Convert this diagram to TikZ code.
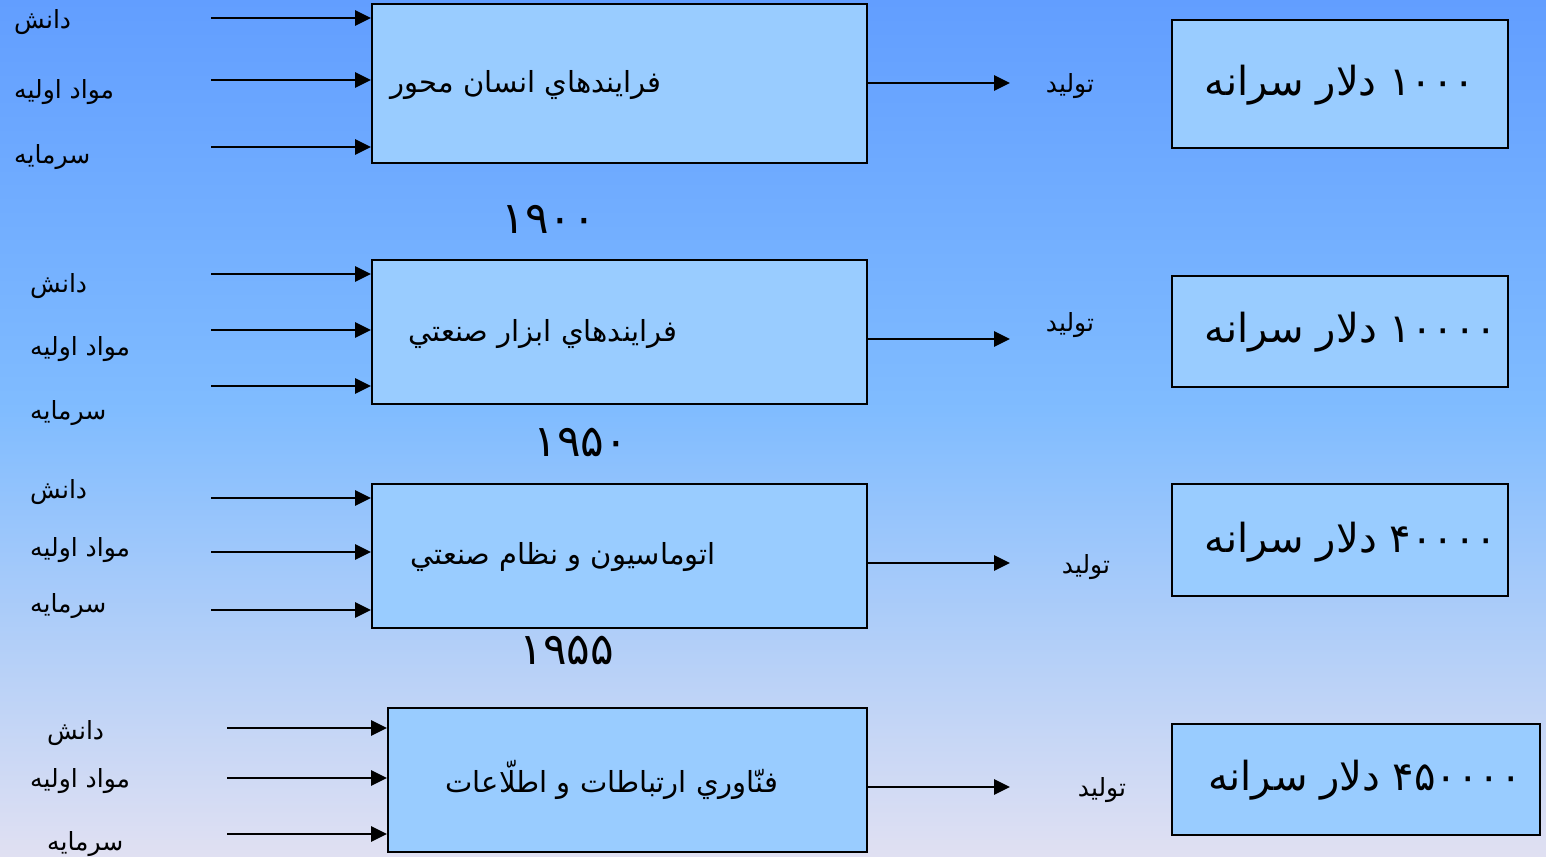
\documentclass[tikz,border=0pt]{standalone}
\usepackage{fontspec}
\usetikzlibrary{arrows.meta}
\TeXXeTstate=1
\newfontfamily\ar[Script=Arabic]{DejaVu Sans}
\definecolor{bgtop}{RGB}{98,158,255}
\definecolor{bgmid}{RGB}{128,188,255}
\definecolor{bgbot}{RGB}{224,224,242}
\definecolor{boxfill}{RGB}{153,204,255}
\tikzset{
  mainbox/.style={draw=black, line width=2.2pt, fill=boxfill, anchor=north west, inner sep=0pt},
  arr/.style={line width=2.8pt, -{Triangle[length=16pt,width=15pt]}},
  lbl/.style={anchor=west, inner sep=0pt, font=\ar\fontsize{25}{28}\selectfont},
  prodlbl/.style={inner sep=0pt, font=\ar\fontsize{25}{28}\selectfont},
  boxtxt/.style={inner sep=0pt, font=\ar\fontsize{29}{34}\selectfont},
  bigtxt/.style={inner sep=0pt, font=\ar\fontsize{40}{46}\selectfont},
  yeartxt/.style={inner sep=0pt, font=\ar\fontsize{44}{50}\selectfont}
}
\begin{document}
\begin{tikzpicture}[x=1pt,y=-1pt]
\useasboundingbox (0,0) rectangle (1546,856);
\shade[top color=bgtop, bottom color=bgmid] (0,0) rectangle (1546,411);
\shade[top color=bgmid, bottom color=bgbot] (0,410) rectangle (1546,856);

% ---------- Row 1 ----------
\node[mainbox, minimum width=495, minimum height=159] (b1) at (371,3) {};
\node[mainbox, minimum width=336, minimum height=128] (r1) at (1171,19) {};
\node[boxtxt] (t1) at (526,85) {\beginR فرايندهاي انسان محور\endR};
\node[bigtxt] (v1) at (1340,85) {\beginR\beginL ۱۰۰۰\endL{} دلار سرانه\endR};
\node[prodlbl] (p1) at (1070,86) {\beginR توليد\endR};
\node[yeartxt] (y1) at (549,219) {۱۹۰۰};
\node[lbl] (a11) at (14,22) {\beginR دانش\endR};
\node[lbl] (a12) at (14,92) {\beginR مواد اوليه\endR};
\node[lbl] (a13) at (14,157) {\beginR سرمايه\endR};
\coordinate (i11) at (211,18);
\coordinate (i12) at (211,80);
\coordinate (i13) at (211,147);
\coordinate (o1) at (1010,83);
\draw[arr] (i11) -- (i11 -| b1.west);
\draw[arr] (i12) -- (i12 -| b1.west);
\draw[arr] (i13) -- (i13 -| b1.west);
\draw[arr] (b1.east |- o1) -- (o1);

% ---------- Row 2 ----------
\node[mainbox, minimum width=495, minimum height=144] (b2) at (371,259) {};
\node[mainbox, minimum width=336, minimum height=111] (r2) at (1171,275) {};
\node[boxtxt] (t2) at (543,334) {\beginR فرايندهاي ابزار صنعتي\endR};
\node[bigtxt] (v2) at (1351,332) {\beginR\beginL ۱۰۰۰۰\endL{} دلار سرانه\endR};
\node[prodlbl] (p2) at (1070,325) {\beginR توليد\endR};
\node[yeartxt] (y2) at (581,442) {۱۹۵۰};
\node[lbl] (a21) at (30,286) {\beginR دانش\endR};
\node[lbl] (a22) at (30,349) {\beginR مواد اوليه\endR};
\node[lbl] (a23) at (30,413) {\beginR سرمايه\endR};
\coordinate (i21) at (211,274);
\coordinate (i22) at (211,330);
\coordinate (i23) at (211,386);
\coordinate (o2) at (1010,339);
\draw[arr] (i21) -- (i21 -| b2.west);
\draw[arr] (i22) -- (i22 -| b2.west);
\draw[arr] (i23) -- (i23 -| b2.west);
\draw[arr] (b2.east |- o2) -- (o2);

% ---------- Row 3 ----------
\node[mainbox, minimum width=495, minimum height=144] (b3) at (371,483) {};
\node[mainbox, minimum width=336, minimum height=112] (r3) at (1171,483) {};
\node[boxtxt] (t3) at (563,557) {\beginR اتوماسيون و نظام صنعتي\endR};
\node[bigtxt] (v3) at (1351,542) {\beginR\beginL ۴۰۰۰۰\endL{} دلار سرانه\endR};
\node[prodlbl] (p3) at (1086,567) {\beginR توليد\endR};
\node[yeartxt] (y3) at (567,650) {۱۹۵۵};
\node[lbl] (a31) at (30,492) {\beginR دانش\endR};
\node[lbl] (a32) at (30,550) {\beginR مواد اوليه\endR};
\node[lbl] (a33) at (30,606) {\beginR سرمايه\endR};
\coordinate (i31) at (211,498);
\coordinate (i32) at (211,552);
\coordinate (i33) at (211,610);
\coordinate (o3) at (1010,563);
\draw[arr] (i31) -- (i31 -| b3.west);
\draw[arr] (i32) -- (i32 -| b3.west);
\draw[arr] (i33) -- (i33 -| b3.west);
\draw[arr] (b3.east |- o3) -- (o3);

% ---------- Row 4 ----------
\node[mainbox, minimum width=479, minimum height=144] (b4) at (387,707) {};
\node[mainbox, minimum width=368, minimum height=111] (r4) at (1171,723) {};
\node[boxtxt] (t4) at (612,780) {\beginR فنّاوري ارتباطات و اطلّاعات\endR};
\node[bigtxt] (v4) at (1365,780) {\beginR\beginL ۴۵۰۰۰۰\endL{} دلار سرانه\endR};
\node[prodlbl] (p4) at (1102,790) {\beginR توليد\endR};
\node[lbl] (a41) at (47,733) {\beginR دانش\endR};
\node[lbl] (a42) at (30,781) {\beginR مواد اوليه\endR};
\node[lbl] (a43) at (47,844) {\beginR سرمايه\endR};
\coordinate (i41) at (227,728);
\coordinate (i42) at (227,778);
\coordinate (i43) at (227,834);
\coordinate (o4) at (1010,787);
\draw[arr] (i41) -- (i41 -| b4.west);
\draw[arr] (i42) -- (i42 -| b4.west);
\draw[arr] (i43) -- (i43 -| b4.west);
\draw[arr] (b4.east |- o4) -- (o4);
\end{tikzpicture}
\end{document}
